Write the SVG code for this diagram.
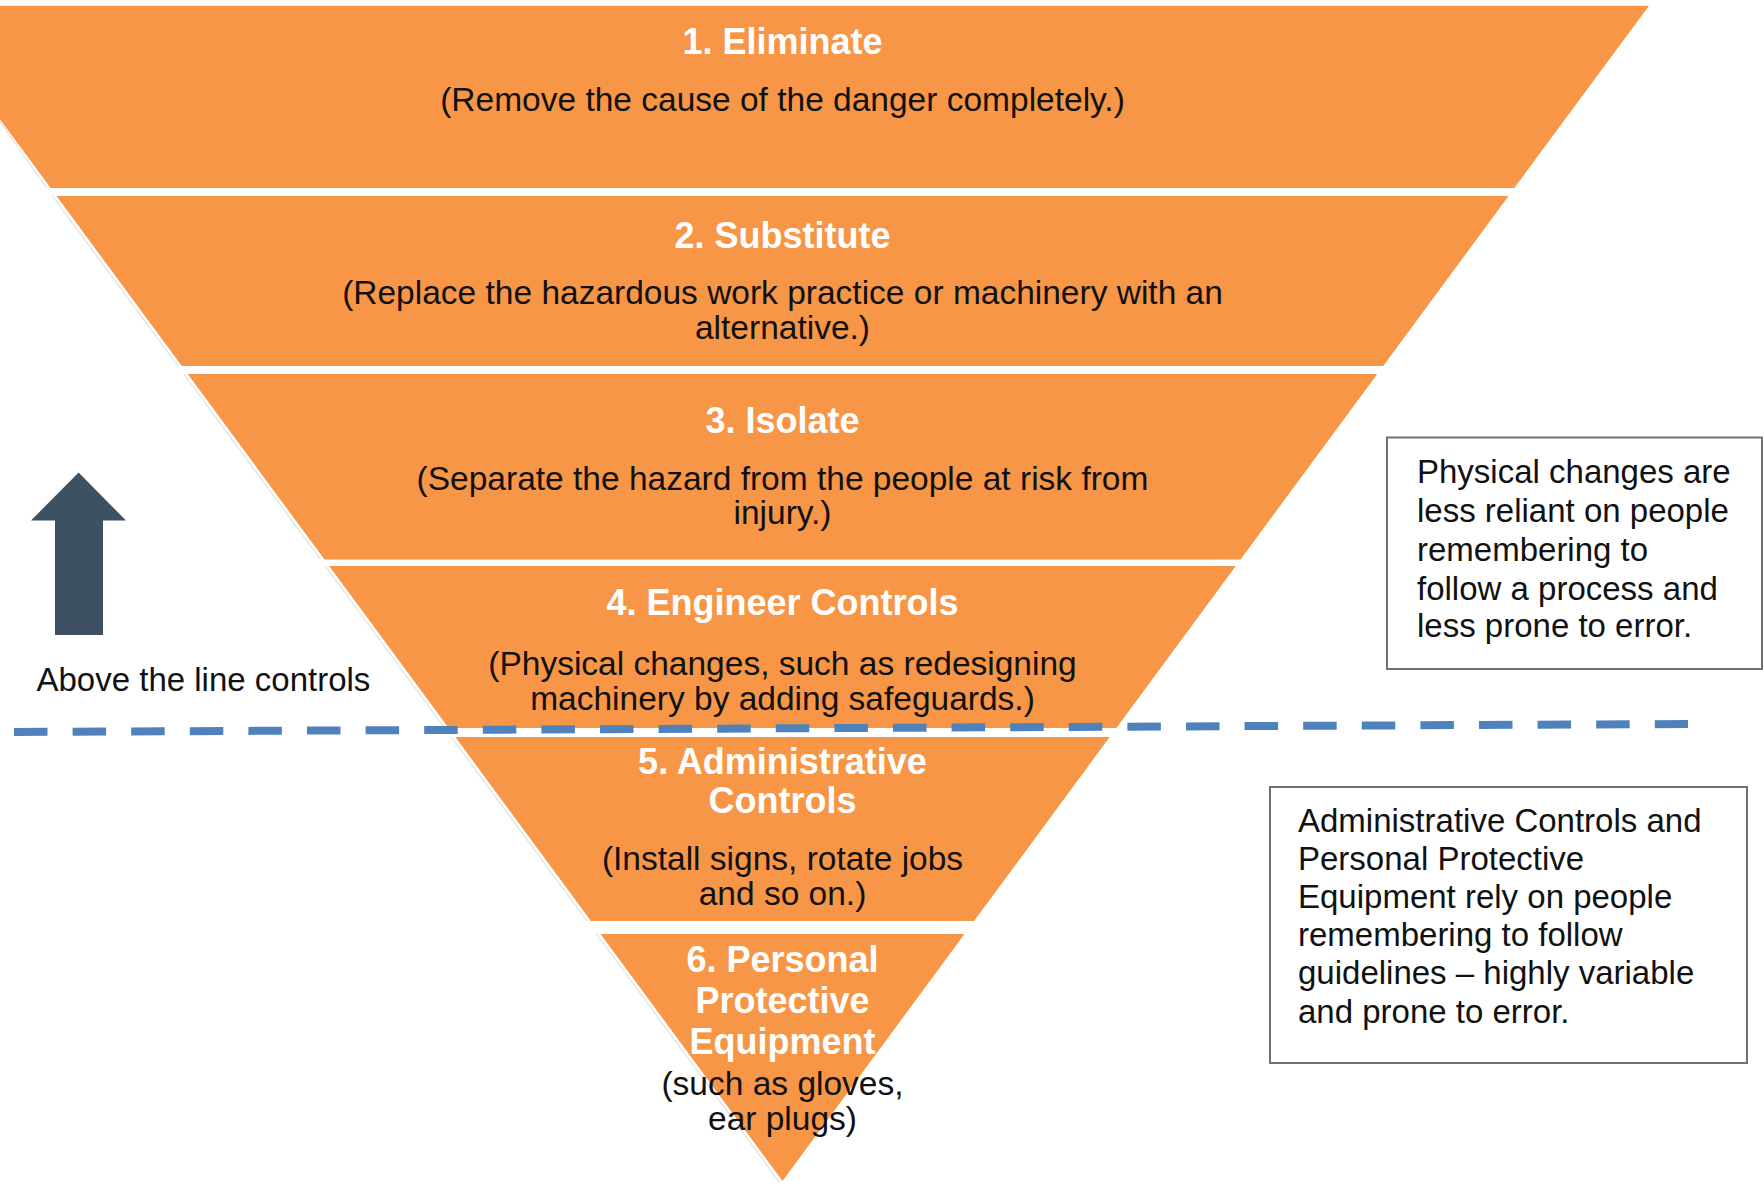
<svg xmlns="http://www.w3.org/2000/svg" width="1764" height="1184" viewBox="0 0 1764 1184">
<defs>
<style>
.band{fill:#F79646;}
.edge{fill:none;stroke:#e0e0e0;stroke-width:1.2;}
.t{font-family:"Liberation Sans",Arial,sans-serif;font-weight:bold;font-size:36px;fill:#ffffff;text-anchor:middle;}
.s{font-family:"Liberation Sans",Arial,sans-serif;font-size:33.5px;fill:#111111;text-anchor:middle;}
.n{font-family:"Liberation Sans",Arial,sans-serif;font-size:33px;fill:#111111;}
.box{fill:#ffffff;stroke:#707070;stroke-width:2;}
</style>
</defs>
<rect width="1764" height="1184" fill="#ffffff"/>

<g id="band1">
<polygon class="band" points="-84,5.7 1649,5.7 1514.3,188 50.7,188"/>
<polyline class="edge" points="-2,119 46.7,188"/>
<text class="t" x="782.5" y="53.6">1. Eliminate</text>
<text class="s" x="782.5" y="111">(Remove the cause of the danger completely.)</text>
</g>
<g id="band2">
<polygon class="band" points="56.5,196 1508.5,196 1383.2,366 181.8,366"/>
<polyline class="edge" points="52.5,196 177.8,366"/>
<text class="t" x="782.5" y="248">2. Substitute</text>
<text class="s" x="782.5" y="304">(Replace the hazardous work practice or machinery with an</text>
<text class="s" x="782.5" y="339">alternative.)</text>
</g>
<g id="band3">
<polygon class="band" points="187.7,374 1377.3,374 1240.5,559.5 324.5,559.5"/>
<polyline class="edge" points="183.7,374 320.5,559.5"/>
<text class="t" x="782.5" y="432.5">3. Isolate</text>
<text class="s" x="782.5" y="490">(Separate the hazard from the people at risk from</text>
<text class="s" x="782.5" y="524">injury.)</text>
</g>
<g id="band4">
<polygon class="band" points="329.2,566 1235.8,566 1116.4,728 448.6,728"/>
<polyline class="edge" points="325.2,566 444.6,728"/>
<text class="t" x="782.5" y="615">4. Engineer Controls</text>
<text class="s" x="782.5" y="675">(Physical changes, such as redesigning</text>
<text class="s" x="782.5" y="709.5">machinery by adding safeguards.)</text>
</g>
<g id="band5">
<polygon class="band" points="455.3,737 1109.7,737 974.1,921 590.9,921"/>
<polyline class="edge" points="451.3,737 586.9,921"/>
<text class="t" x="782.5" y="774">5. Administrative</text>
<text class="t" x="782.5" y="813">Controls</text>
<text class="s" x="782.5" y="870">(Install signs, rotate jobs</text>
<text class="s" x="782.5" y="904.5">and so on.)</text>
</g>
<g id="band6">
<polygon class="band" points="600.5,934 964.5,934 782.5,1181"/>
<polyline class="edge" points="596.5,934 780,1183"/>
<text class="t" x="782.5" y="971.7">6. Personal</text>
<text class="t" x="782.5" y="1013">Protective</text>
<text class="t" x="782.5" y="1054">Equipment</text>
<text class="s" x="782.5" y="1095">(such as gloves,</text>
<text class="s" x="782.5" y="1130">ear plugs)</text>
</g>

<g id="connectors">
<line x1="14" y1="732" x2="1688" y2="724" stroke="#4F81BD" stroke-width="8" stroke-dasharray="33.5 25.1"/>
</g>

<g id="arrow">
<polygon points="78.6,472.6 126,520.5 103,520.5 103,635 55,635 55,520.5 31,520.5" fill="#3D5163"/>
<text class="n" x="36.5" y="691">Above the line controls</text>
</g>

<g id="note1">
<rect class="box" x="1387" y="437.5" width="375" height="231.5"/>
<text class="n" x="1417" y="483">Physical changes are</text>
<text class="n" x="1417" y="522">less reliant on people</text>
<text class="n" x="1417" y="561">remembering to</text>
<text class="n" x="1417" y="600">follow a process and</text>
<text class="n" x="1417" y="637">less prone to error.</text>
</g>

<g id="note2">
<rect class="box" x="1270" y="787" width="477" height="276"/>
<text class="n" x="1298" y="831.6">Administrative Controls and</text>
<text class="n" x="1298" y="870">Personal Protective</text>
<text class="n" x="1298" y="908">Equipment rely on people</text>
<text class="n" x="1298" y="946">remembering to follow</text>
<text class="n" x="1298" y="984">guidelines – highly variable</text>
<text class="n" x="1298" y="1023">and prone to error.</text>
</g>
</svg>
